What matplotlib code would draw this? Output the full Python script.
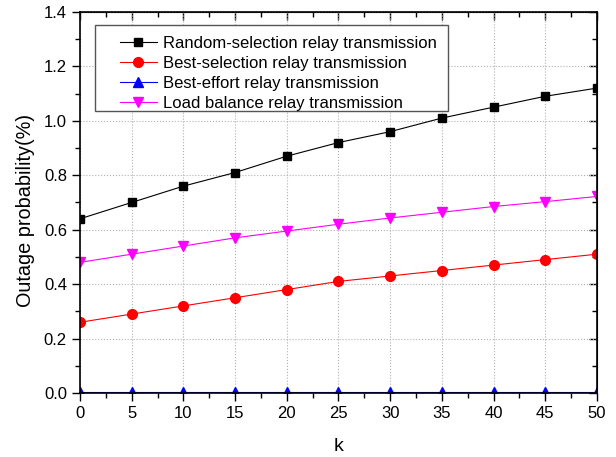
import matplotlib
matplotlib.use("Agg")
import matplotlib.pyplot as plt
from matplotlib.ticker import MultipleLocator, FormatStrFormatter
from matplotlib.patches import Rectangle

plt.rcParams['font.family'] = ['Liberation Sans', 'DejaVu Sans']

k = [0, 5, 10, 15, 20, 25, 30, 35, 40, 45, 50]
random_sel = [0.64, 0.70, 0.76, 0.81, 0.87, 0.92, 0.96, 1.01, 1.05, 1.09, 1.12]
best_sel = [0.26, 0.29, 0.32, 0.35, 0.38, 0.41, 0.43, 0.45, 0.47, 0.49, 0.51]
best_effort = [0.002, 0.002, 0.002, 0.002, 0.002, 0.002, 0.002, 0.002, 0.002, 0.002, 0.002]
load_bal = [0.48, 0.51, 0.54, 0.57, 0.595, 0.62, 0.643, 0.664, 0.685, 0.703, 0.722]

labels = ["Random-selection relay transmission",
          "Best-selection relay transmission",
          "Best-effort relay transmission",
          "Load balance relay transmission"]

fig = plt.figure(figsize=(6.16, 4.57), dpi=100)
ax = fig.add_axes([0.130, 0.140, 0.839, 0.834])

ax.plot(k, random_sel, color='black', lw=0.8, marker='s', ms=6, label=labels[0])
ax.plot(k, best_sel, color='red', lw=0.8, marker='o', ms=7, label=labels[1])
ax.plot(k, best_effort, color='blue', lw=0.8, marker='^', ms=7.5, label=labels[2])
ax.plot(k, load_bal, color='magenta', lw=0.8, marker='v', ms=7.5, label=labels[3])

ax.set_xlim(0, 50)
ax.set_ylim(0, 1.4)
ax.xaxis.set_major_locator(MultipleLocator(5))
ax.xaxis.set_minor_locator(MultipleLocator(2.5))
ax.yaxis.set_major_locator(MultipleLocator(0.2))
ax.yaxis.set_minor_locator(MultipleLocator(0.1))
ax.yaxis.set_major_formatter(FormatStrFormatter('%.1f'))
ax.tick_params(which='both', direction='out', labelsize=12, width=1)
ax.tick_params(which='major', length=6)
ax.tick_params(which='minor', length=3.5)
ax.grid(True, which='major', color='#b0b0b0', ls=':', lw=0.8)
for s in ax.spines.values():
    s.set_linewidth(1.2)

top = ax.secondary_xaxis('top')
top.xaxis.set_major_locator(MultipleLocator(5))
top.xaxis.set_minor_locator(MultipleLocator(2.5))
top.tick_params(which='both', direction='in', labeltop=False, width=1)
top.tick_params(which='major', length=6)
top.tick_params(which='minor', length=3.5)
right = ax.secondary_yaxis('right')
right.yaxis.set_major_locator(MultipleLocator(0.2))
right.yaxis.set_minor_locator(MultipleLocator(0.1))
right.tick_params(which='both', direction='in', labelright=False, width=1)
right.tick_params(which='major', length=6)
right.tick_params(which='minor', length=3.5)

ax.set_xlabel('k', fontsize=14, labelpad=12)
ax.set_ylabel('Outage probability(%)', fontsize=14.3, labelpad=6)
ax.yaxis.label.set_y(0.48)

# legend frame drawn separately
frame = Rectangle((0.029, 0.740), 0.683, 0.226, transform=ax.transAxes,
                  facecolor='white', edgecolor='#555555', lw=1.0, zorder=4)
ax.add_patch(frame)
leg = ax.legend(loc='upper left', bbox_to_anchor=(0.077, 0.936), fontsize=12,
                frameon=False, borderpad=0, borderaxespad=0,
                handlelength=2.2, handletextpad=0.36, labelspacing=0.29)
leg.set_zorder(5)

fig.savefig('out.png', dpi=100)
